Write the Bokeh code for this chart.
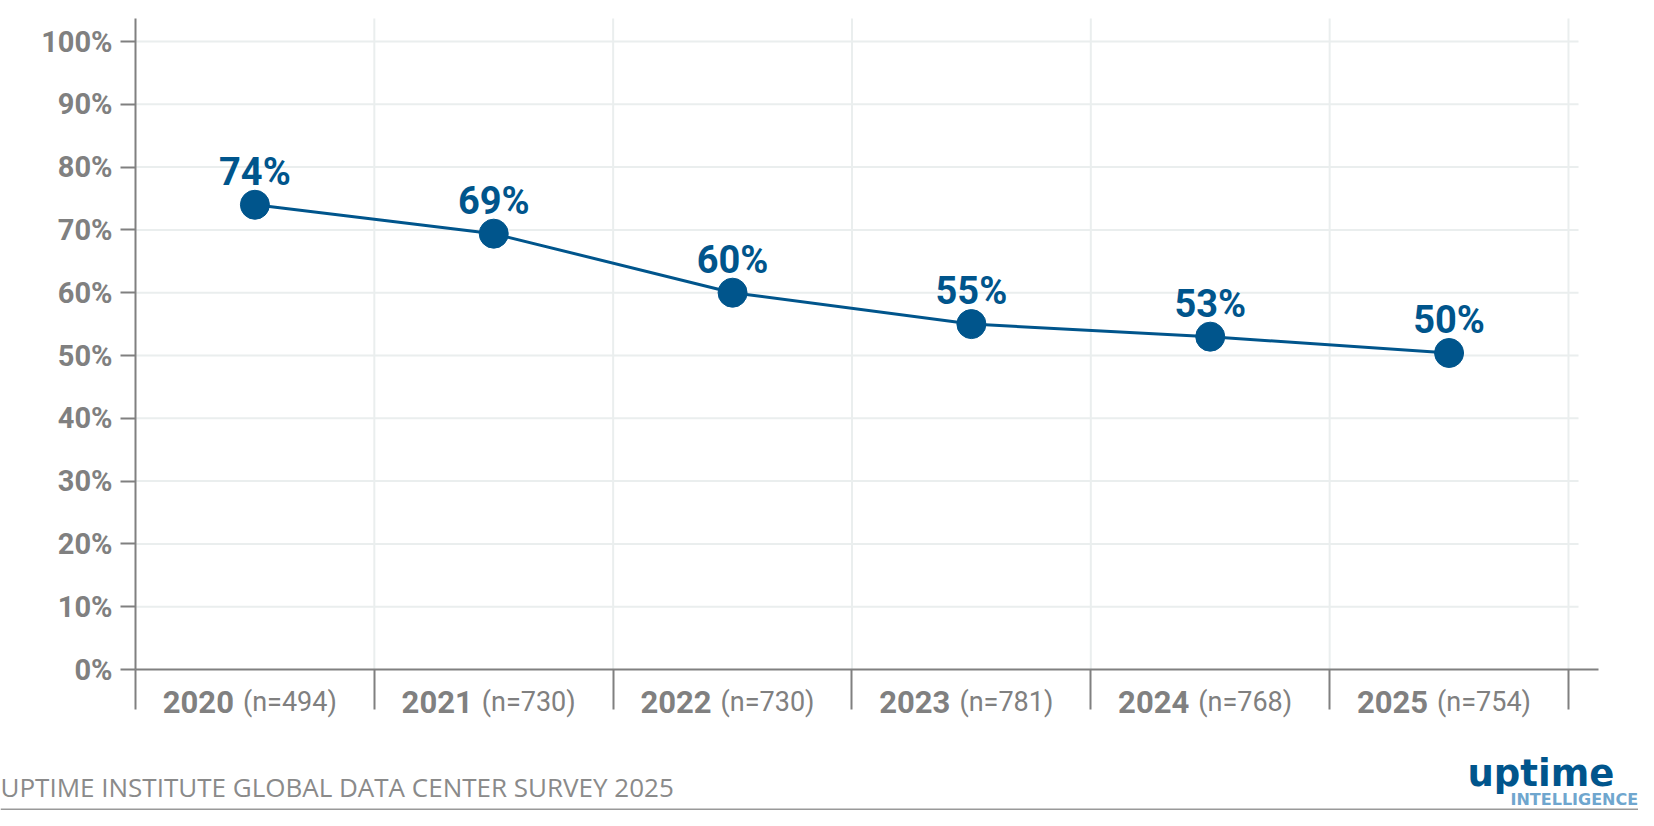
from bokeh.plotting import figure
from bokeh.models import Range1d, FixedTicker, ColumnDataSource
from bokeh.core.properties import value
from bokeh.embed import file_html
from bokeh.resources import INLINE

# ---- data ----
years = ["2020", "2021", "2022", "2023", "2024", "2025"]
n_labels = ["(n=494)", "(n=730)", "(n=730)", "(n=781)", "(n=768)", "(n=754)"]
values = [74.0, 69.4, 60.0, 55.0, 53.0, 50.4]
value_labels = ["74%", "69%", "60%", "55%", "53%", "50%"]
y_ticks = [0, 10, 20, 30, 40, 50, 60, 70, 80, 90, 100]
y_tick_labels = ["0%", "10%", "20%", "30%", "40%", "50%", "60%", "70%", "80%", "90%", "100%"]
footer = "UPTIME INSTITUTE GLOBAL DATA CENTER SURVEY 2025"

BLUE = "#00558C"
GRAY = "#808080"
GRID = "#EAEEEE"
FONT = "Roboto"

W, H = 1638, 810
# layout in pixels
AX_LEFT, AX_BOTTOM = 135, 669      # axis origin (px from top-left)
CAT_W = 238.83                     # px per category
PCT = 6.28                         # px per percentage point

ncat = len(years)
xc = [i + 0.5 for i in range(ncat)]

def dx(px):   # pixel x -> data x
    return (px - AX_LEFT) / CAT_W

def dy(py):   # pixel y (from top) -> data y
    return (AX_BOTTOM - py) / PCT

y_top = dy(18)
x_end = dx(1598)

p = figure(width=W, height=H,
           min_border_left=0, min_border_right=0, min_border_top=0, min_border_bottom=0,
           x_range=Range1d(dx(0), dx(W)), y_range=Range1d(dy(H), dy(0)),
           output_backend="svg", toolbar_location=None,
           background_fill_color="white", border_fill_color="white")
p.outline_line_color = None
p.xgrid.visible = False
p.ygrid.visible = False

# grid lines (drawn as segments so they stop where the reference stops)
hsrc = ColumnDataSource(dict(x0=[0] * (len(y_ticks) - 1), x1=[dx(1578)] * (len(y_ticks) - 1),
                             y=y_ticks[1:]))
p.segment(x0="x0", y0="y", x1="x1", y1="y", source=hsrc, line_color=GRID, line_width=2)
vsrc = ColumnDataSource(dict(x=list(range(1, ncat + 1)), y0=[0] * ncat, y1=[y_top] * ncat))
p.segment(x0="x", y0="y0", x1="x", y1="y1", source=vsrc, line_color=GRID, line_width=2)

# y axis
ya = p.yaxis[0]
ya.fixed_location = 0
ya.bounds = (0, y_top)
ya.ticker = FixedTicker(ticks=y_ticks)
ya.major_label_overrides = {t: l for t, l in zip(y_ticks, y_tick_labels)}
ya.major_tick_in = 0
ya.major_tick_out = 15
ya.minor_tick_line_color = None
ya.axis_line_color = GRAY
ya.axis_line_width = 2
ya.major_tick_line_color = GRAY
ya.major_tick_line_width = 2
ya.major_label_text_font = FONT
ya.major_label_text_font_style = "bold"
ya.major_label_text_font_size = "29px"
ya.major_label_text_color = GRAY
ya.major_label_standoff = 8

# x axis (category boundaries)
xa = p.xaxis[0]
xa.fixed_location = 0
xa.bounds = (0, x_end)
xa.ticker = FixedTicker(ticks=list(range(0, ncat + 1)))
xa.major_label_overrides = {i: "" for i in range(0, ncat + 1)}
xa.major_label_text_font_size = "1px"
xa.major_tick_in = 0
xa.major_tick_out = 40
xa.minor_tick_line_color = None
xa.axis_line_color = GRAY
xa.axis_line_width = 2
xa.major_tick_line_color = GRAY
xa.major_tick_line_width = 2

# series
src = ColumnDataSource(dict(x=xc, y=values, lab=value_labels,
                            ylab=[v + 33 / PCT for v in values]))
p.line("x", "y", source=src, line_color=BLUE, line_width=3)
p.scatter("x", "y", source=src, size=29, fill_color=BLUE, line_color=BLUE)
p.text("x", "ylab", text="lab", source=src,
       text_align="center", text_baseline="middle",
       text_font=value(FONT), text_font_style="bold", text_font_size="38px",
       text_color=BLUE)

# category labels below axis
csrc = ColumnDataSource(dict(xy=[c - 21 / CAT_W for c in xc], xn=[c - 12 / CAT_W for c in xc],
                             y=[dy(701.5)] * ncat, yr=years, n=n_labels))
p.text("xy", "y", text="yr", source=csrc, text_align="right", text_baseline="middle",
       text_font=value(FONT), text_font_style="bold", text_font_size="31px", text_color=GRAY)
p.text("xn", "y", text="n", source=csrc, text_align="left", text_baseline="middle",
       text_font=value(FONT), text_font_style="normal", text_font_size="27px", text_color=GRAY)

# footer and logo
p.text(x=[dx(0)], y=[dy(786)], text=[footer], text_align="left", text_baseline="middle",
       text_font=value("Open Sans"), text_font_size="26px", text_color="#8A8A8A")
p.text(x=[dx(1467)], y=[dy(773)], text=["uptime"], text_align="left", text_baseline="middle",
       text_font=value("DejaVu Sans"), text_font_style="bold", text_font_size="37px",
       text_color=BLUE)
p.text(x=[dx(1510)], y=[dy(799)], text=["INTELLIGENCE"], text_align="left",
       text_baseline="middle", text_font=value("DejaVu Sans"), text_font_style="bold",
       text_font_size="16px", text_color="#6FA6CE")
p.segment(x0=[dx(0)], y0=[dy(809)], x1=[dx(W)], y1=[dy(809)], line_color="#999999", line_width=2)

open("out.html", "w").write(file_html(p, INLINE))
